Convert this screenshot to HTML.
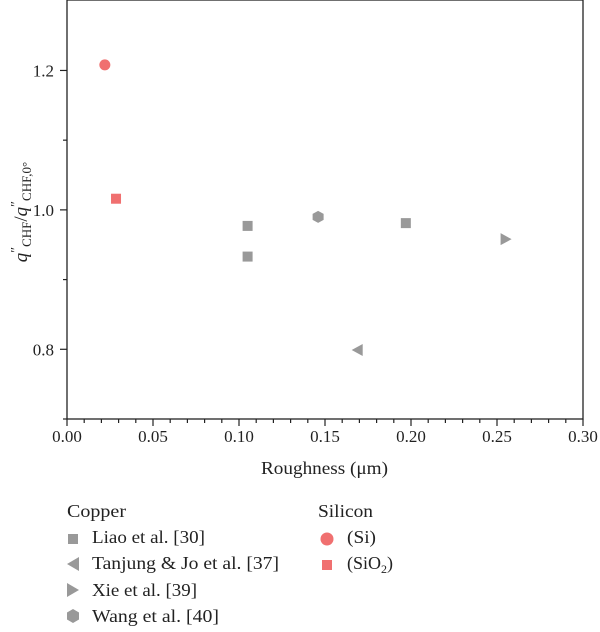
<!DOCTYPE html>
<html><head><meta charset="utf-8"><style>
body{margin:0;background:#fff;}
svg text{font-family:"Liberation Serif",serif;fill:#222;}
</style></head><body>
<svg id="chart" width="600" height="627" xmlns="http://www.w3.org/2000/svg">
<g id="axes"></g>
<g id="marks"></g>
<text x="261" y="474" font-size="18" textLength="127" lengthAdjust="spacingAndGlyphs">Roughness (μm)</text>
<text transform="translate(27,212) rotate(-90)" font-size="19" text-anchor="middle"><tspan font-style="italic">q</tspan><tspan font-size="14" dy="-7">″</tspan><tspan font-size="13" dy="11">CHF</tspan><tspan dy="-4">/</tspan><tspan font-style="italic">q</tspan><tspan font-size="14" dy="-7">″</tspan><tspan font-size="13" dy="11">CHF,0°</tspan></text>
<g>
<text x="67" y="517" font-size="18" textLength="59" lengthAdjust="spacingAndGlyphs">Copper</text>
<rect x="68" y="534" width="10" height="10" fill="#999"/>
<text x="92" y="543" font-size="18" textLength="113" lengthAdjust="spacingAndGlyphs">Liao et al. [30]</text>
<polygon points="67,564 79,557 79,571" fill="#999"/>
<text x="92" y="569" font-size="18" textLength="187" lengthAdjust="spacingAndGlyphs">Tanjung &amp; Jo et al. [37]</text>
<polygon points="79,590 67,583 67,597" fill="#999"/>
<text x="92" y="596" font-size="18" textLength="105" lengthAdjust="spacingAndGlyphs">Xie et al. [39]</text>
<polygon points="73,609 79,612.5 79,619.5 73,623 67,619.5 67,612.5" fill="#999"/>
<text x="92" y="622" font-size="18" textLength="127" lengthAdjust="spacingAndGlyphs">Wang et al. [40]</text>
<text x="318" y="517" font-size="18" textLength="55" lengthAdjust="spacingAndGlyphs">Silicon</text>
<circle cx="327" cy="539" r="6.5" fill="#f07070"/>
<text x="347" y="543" font-size="18" textLength="29" lengthAdjust="spacingAndGlyphs">(Si)</text>
<rect x="322" y="560" width="10" height="10" fill="#f07070"/>
<text x="347" y="569" font-size="18">(SiO<tspan font-size="12" dy="4">2</tspan><tspan dy="-4">)</tspan></text>
</g>
</svg>
<script>
const xTicks=[0,0.05,0.10,0.15,0.20,0.25,0.30];
const xTickLabels=["0.00","0.05","0.10","0.15","0.20","0.25","0.30"];
const yTicks=[0.8,1.0,1.2];
const yTickLabels=["0.8","1.0","1.2"];
const seriesNames=["Liao","Tanjung","Xie","Wang","Si","SiO2"];
const liaoX=[0.105,0.105,0.197];
const liaoY=[0.977,0.933,0.981];
const tanjungX=[0.169];
const tanjungY=[0.799];
const xieX=[0.255];
const xieY=[0.958];
const wangX=[0.146];
const wangY=[0.990];
const siX=[0.022];
const siY=[1.208];
const sio2X=[0.0285];
const sio2Y=[1.016];

const L=67,R=583,T=0,B=419;
const xMin=0,xMax=0.30,yMin=0.7,yMax=1.0+210/697.5;
function sx(v){return L+(v-xMin)/(xMax-xMin)*(R-L);}
function sy(v){return B-(v-yMin)/(yMax-yMin)*(B-T);}
const NS="http://www.w3.org/2000/svg";
function mk(tag,attrs,parent){const e=document.createElementNS(NS,tag);for(const k in attrs)e.setAttribute(k,attrs[k]);parent.appendChild(e);return e;}
const axes=document.getElementById('axes');
const marks=document.getElementById('marks');
let f=mk('rect',{x:L,y:T,width:R-L,height:B-T,fill:'none',stroke:'#222','stroke-width':1.3},axes);


for(let i=0;i<=30;i++){
  const v=i*0.01;const x=sx(v);const major=i%5===0;
  const t=mk('line',{x1:x,x2:x,y1:B,y2:B+(major?7:4),stroke:'#222','stroke-width':1.2},axes);
  
  
}
xTicks.forEach((v,i)=>{
  const t=mk('text',{x:sx(v),y:B+23,'font-size':17,'text-anchor':'middle'},axes);t.textContent=xTickLabels[i];
  
  
});
[0.7,0.8,0.9,1.0,1.1,1.2].forEach(v=>{
  const y=sy(v);const major=yTicks.some(t=>Math.abs(t-v)<1e-6);
  const t=mk('line',{x1:L,x2:L-(major?7:4),y1:y,y2:y,stroke:'#222','stroke-width':1.2},axes);
  
  
});
yTicks.forEach((v,i)=>{
  const t=mk('text',{x:L-13,y:sy(v)+6,'font-size':17,'text-anchor':'end'},axes);t.textContent=yTickLabels[i];
  
  
});
const gray='#999',red='#f07070';
function draw(xs,ys,shape,color,name){
  xs.forEach((xv,i)=>{
    const x=sx(xv),y=sy(ys[i]);let e;
    if(shape==='sq')e=mk('rect',{x:x-5,y:y-5,width:10,height:10,fill:color},marks);
    else if(shape==='ci')e=mk('circle',{cx:x,cy:y,r:5.5,fill:color},marks);
    else if(shape==='tl')e=mk('polygon',{points:`${x-6},${y} ${x+5},${y-6} ${x+5},${y+6}`,fill:color},marks);
    else if(shape==='tr')e=mk('polygon',{points:`${x+6},${y} ${x-5},${y-6} ${x-5},${y+6}`,fill:color},marks);
    else e=mk('polygon',{points:`${x},${y-6} ${x+5.5},${y-3} ${x+5.5},${y+3} ${x},${y+6} ${x-5.5},${y+3} ${x-5.5},${y-3}`,fill:color},marks);
    
    
  });
}
draw(liaoX,liaoY,'sq',gray,'liao');
draw(tanjungX,tanjungY,'tl',gray,'tanjung');
draw(xieX,xieY,'tr',gray,'xie');
draw(wangX,wangY,'hex',gray,'wang');
draw(siX,siY,'ci',red,'si');
draw(sio2X,sio2Y,'sq',red,'sio2');
</script>
</body></html>
